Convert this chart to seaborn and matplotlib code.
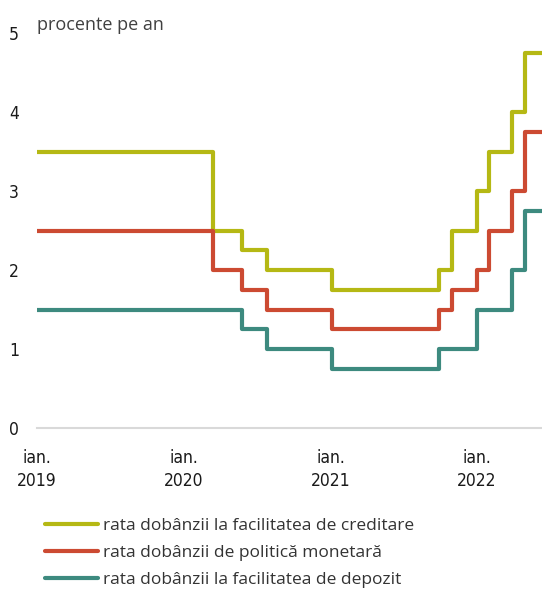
import pandas as pd
import seaborn as sns
import matplotlib.pyplot as plt

# ---- data ----
change_dates = ["2019-01-01", "2020-03-15", "2020-05-25", "2020-07-28", "2021-01-05",
                "2021-09-28", "2021-11-01", "2022-01-01", "2022-02-01", "2022-03-29",
                "2022-04-30", "2022-06-12"]
lending_rate = [3.5, 2.5, 2.25, 2.0, 1.75, 2.0, 2.5, 3.0, 3.5, 4.0, 4.75, 4.75]
policy_rate = [2.5, 2.0, 1.75, 1.5, 1.25, 1.5, 1.75, 2.0, 2.5, 3.0, 3.75, 3.75]
deposit_rate = [1.5, 1.5, 1.25, 1.0, 0.75, 1.0, 1.0, 1.5, 1.5, 2.0, 2.75, 2.75]

series_names = ["rata dobânzii la facilitatea de creditare",
                "rata dobânzii de politică monetară",
                "rata dobânzii la facilitatea de depozit"]
series_colors = ["#b5b814", "#cc4a32", "#3d8a7f"]
y_ticks = [0, 1, 2, 3, 4, 5]
x_tick_years = [2019, 2020, 2021, 2022]

# ---- long table for seaborn ----
dates = pd.to_datetime(change_dates)
frames = []
for name, vals in zip(series_names, [lending_rate, policy_rate, deposit_rate]):
    frames.append(pd.DataFrame({"data": dates, "rata": vals, "serie": name}))
df = pd.concat(frames, ignore_index=True)

sns.set_style("white")
plt.rcParams["font.family"] = ["Open Sans", "DejaVu Sans"]

fig = plt.figure(figsize=(5.42, 5.91), dpi=100)
ax = fig.add_axes([37 / 542, 1 - 428 / 591, 1 - 37 / 542, (428 - 33) / 591])

sns.lineplot(data=df, x="data", y="rata", hue="serie", hue_order=series_names,
             palette=series_colors, drawstyle="steps-post", linewidth=3,
             ax=ax, legend=True)

ax.set_xlim(dates[0], dates[-1])
ax.set_ylim(0, 5)
ax.set_xlabel("")
ax.set_ylabel("")

# axes styling
for s in ["top", "right", "left"]:
    ax.spines[s].set_visible(False)
ax.spines["bottom"].set_color("#d9d9d9")
ax.spines["bottom"].set_linewidth(1.5)

# condensed look for the tick labels
tick_font = dict(family="DejaVu Sans", stretch="condensed", fontsize=12.5, color="#1a1a1a")
ax.set_yticks(y_ticks)
ax.set_yticklabels([str(v) for v in y_ticks], **tick_font)
ax.tick_params(axis="y", length=0, pad=13)

xt = [pd.Timestamp(f"{y}-01-01") for y in x_tick_years]
ax.set_xticks(xt)
ax.set_xticklabels([f"ian.\n{y}" for y in x_tick_years], linespacing=1.35, **tick_font)
ax.tick_params(axis="x", length=4, width=1.5, color="#d9d9d9", pad=11)

fig.text(37 / 542, 1 - 25 / 591, "procente pe an", fontsize=13, color="#404040",
         va="center", ha="left")

leg = ax.legend(loc="upper left", bbox_to_anchor=(45 / 542, 1 - 518 / 591),
                bbox_transform=fig.transFigure, frameon=False, fontsize=12.5,
                handlelength=3.05, handletextpad=0.3, labelspacing=0.62,
                borderaxespad=0, borderpad=0)
for t in leg.get_texts():
    t.set_color("#333333")
for h in leg.get_lines():
    h.set_linewidth(3)

fig.savefig("out.png", dpi=100)
